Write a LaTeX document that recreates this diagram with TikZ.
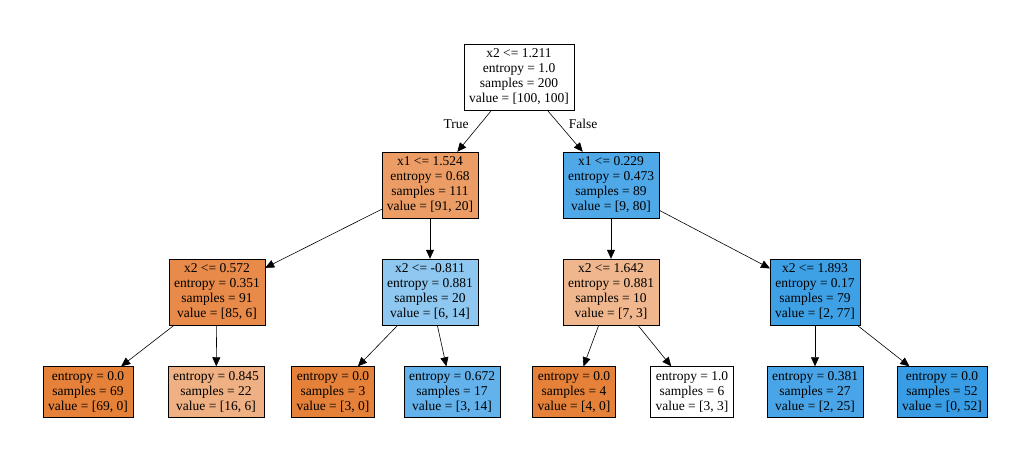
\documentclass[tikz,border=0pt]{standalone}
\usepackage{fontspec}
\setmainfont{Liberation Serif}
\usetikzlibrary{arrows.meta}
\definecolor{cA}{RGB}{229,129,57}
\definecolor{cB}{RGB}{57,157,229}
\definecolor{cC}{RGB}{235,157,101}
\definecolor{cD}{RGB}{79,168,232}
\definecolor{cE}{RGB}{231,138,74}
\definecolor{cF}{RGB}{142,199,240}
\definecolor{cG}{RGB}{240,183,142}
\definecolor{cH}{RGB}{62,161,230}
\definecolor{cI}{RGB}{239,176,131}
\definecolor{cJ}{RGB}{99,178,235}
\definecolor{cK}{RGB}{73,165,231}
\tikzset{
  leaf/.style={draw,rectangle,align=center,inner xsep=5pt,inner ysep=5pt,
    font=\fontsize{13.5}{15}\selectfont},
  edge/.style={-{Triangle[length=9pt,width=8pt]},semithick}
}
\begin{document}
\begin{tikzpicture}[x=1pt,y=-1pt]
\fill[white] (0,0) rectangle (1032,462);
\node[leaf,fill=white] (root) at (519,77) {x2 <= 1.211\\entropy = 1.0\\samples = 200\\value = [100, 100]};
\node[leaf,fill=cC] (l) at (430,185) {x1 <= 1.524\\entropy = 0.68\\samples = 111\\value = [91, 20]};
\node[leaf,fill=cD] (r) at (611,185) {x1 <= 0.229\\entropy = 0.473\\samples = 89\\value = [9, 80]};
\node[leaf,fill=cE] (ll) at (217,292) {x2 <= 0.572\\entropy = 0.351\\samples = 91\\value = [85, 6]};
\node[leaf,fill=cF] (lr) at (430,292) {x2 <= -0.811\\entropy = 0.881\\samples = 20\\value = [6, 14]};
\node[leaf,fill=cG] (rl) at (611,292) {x2 <= 1.642\\entropy = 0.881\\samples = 10\\value = [7, 3]};
\node[leaf,fill=cH] (rr) at (815,292) {x2 <= 1.893\\entropy = 0.17\\samples = 79\\value = [2, 77]};
\node[leaf,fill=cA] (lll) at (88,392) {entropy = 0.0\\samples = 69\\value = [69, 0]};
\node[leaf,fill=cI] (llr) at (216,392) {entropy = 0.845\\samples = 22\\value = [16, 6]};
\node[leaf,fill=cA] (lrl) at (333,392) {entropy = 0.0\\samples = 3\\value = [3, 0]};
\node[leaf,fill=cJ] (lrr) at (452,392) {entropy = 0.672\\samples = 17\\value = [3, 14]};
\node[leaf,fill=cA] (rll) at (574,392) {entropy = 0.0\\samples = 4\\value = [4, 0]};
\node[leaf,fill=white] (rlr) at (692,392) {entropy = 1.0\\samples = 6\\value = [3, 3]};
\node[leaf,fill=cK] (rrl) at (815,392) {entropy = 0.381\\samples = 27\\value = [2, 25]};
\node[leaf,fill=cB] (rrr) at (942,392) {entropy = 0.0\\samples = 52\\value = [0, 52]};
\foreach \a/\b in {root/l,root/r,l/ll,l/lr,r/rl,r/rr,ll/lll,ll/llr,lr/lrl,lr/lrr,
  rl/rll,rl/rlr,rr/rrl,rr/rrr}
  {\draw[edge] (\a) -- (\b);}
\node[font=\fontsize{13.5}{15}\selectfont] (t) at (456,124) {True};
\node[font=\fontsize{13.5}{15}\selectfont] (f) at (583,124) {False};
\end{tikzpicture}
\end{document}
